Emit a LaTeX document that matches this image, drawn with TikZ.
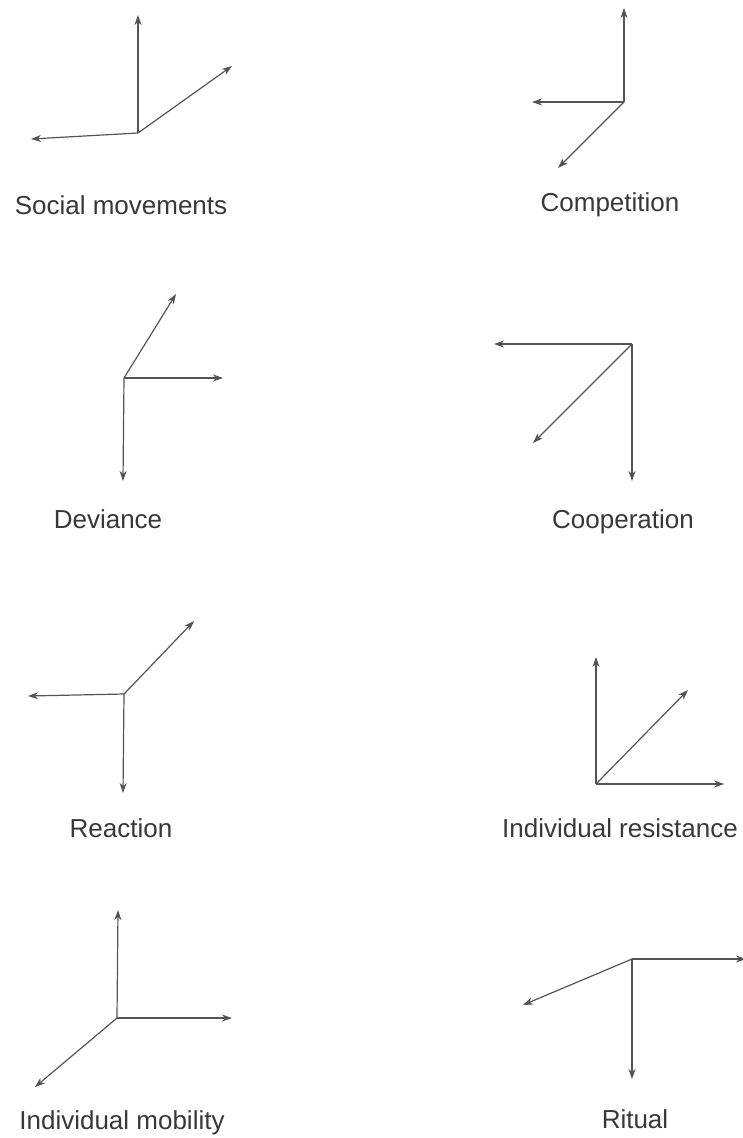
\documentclass[tikz,border=0pt]{standalone}
\usepackage{fontspec}
\setmainfont{Liberation Sans}
\usetikzlibrary{arrows.meta}
\definecolor{linegray}{gray}{0.33}
\definecolor{textgray}{gray}{0.22}
\tikzset{
  vec/.style={draw=linegray, line width=1.2pt, -{Stealth[length=10pt,width=7pt,inset=3pt]}},
  lbl/.style={anchor=base, inner sep=0pt, text=textgray, font=\fontsize{26}{30}\selectfont}
}
\begin{document}
\begin{tikzpicture}[x=1pt,y=-1pt]
\useasboundingbox (0,0) rectangle (742,1138);
% Social movements
\coordinate (sm) at (138,133);
\coordinate (smU) at (138,15);
\coordinate (smR) at (232,66);
\coordinate (smL) at (31,139);
\draw[vec] (sm) -- (smU);
\draw[vec] (sm) -- (smR);
\draw[vec] (sm) -- (smL);
\node[lbl] (smT) at (121,214) {Social movements};
% Competition
\coordinate (co) at (624,102);
\coordinate (coU) at (624,8);
\coordinate (coL) at (532,102);
\coordinate (coD) at (558,168);
\draw[vec] (co) -- (coU);
\draw[vec] (co) -- (coL);
\draw[vec] (co) -- (coD);
\node[lbl] (coT) at (610,211) {Competition};
% Deviance
\coordinate (de) at (124,378);
\coordinate (deU) at (176,294);
\coordinate (deR) at (223,378);
\coordinate (deD) at (123,481);
\draw[vec] (de) -- (deU);
\draw[vec] (de) -- (deR);
\draw[vec] (de) -- (deD);
\node[lbl] (deT) at (108,528) {Deviance};
% Cooperation
\coordinate (cp) at (632,344);
\coordinate (cpL) at (494,344);
\coordinate (cpD) at (533,443);
\coordinate (cpS) at (632,481);
\draw[vec] (cp) -- (cpL);
\draw[vec] (cp) -- (cpD);
\draw[vec] (cp) -- (cpS);
\node[lbl] (cpT) at (623,528) {Cooperation};
% Reaction
\coordinate (re) at (124,694);
\coordinate (reU) at (194,621);
\coordinate (reL) at (28,696);
\coordinate (reD) at (123,793);
\draw[vec] (re) -- (reU);
\draw[vec] (re) -- (reL);
\draw[vec] (re) -- (reD);
\node[lbl] (reT) at (121,837) {Reaction};
% Individual resistance
\coordinate (ir) at (596,784);
\coordinate (irU) at (596,657);
\coordinate (irD) at (688,690);
\coordinate (irR) at (724,784);
\draw[vec] (ir) -- (irU);
\draw[vec] (ir) -- (irD);
\draw[vec] (ir) -- (irR);
\node[lbl] (irT) at (620,837) {Individual resistance};
% Individual mobility
\coordinate (im) at (117,1018);
\coordinate (imU) at (118,910);
\coordinate (imR) at (232,1018);
\coordinate (imL) at (35,1087);
\draw[vec] (im) -- (imU);
\draw[vec] (im) -- (imR);
\draw[vec] (im) -- (imL);
\node[lbl] (imT) at (122,1129) {Individual mobility};
% Ritual
\coordinate (ri) at (632,959);
\coordinate (riR) at (746,959);
\coordinate (riL) at (523,1005);
\coordinate (riD) at (632,1079);
\draw[vec] (ri) -- (riR);
\draw[vec] (ri) -- (riL);
\draw[vec] (ri) -- (riD);
\node[lbl] (riT) at (635,1128) {Ritual};
\end{tikzpicture}
\end{document}
